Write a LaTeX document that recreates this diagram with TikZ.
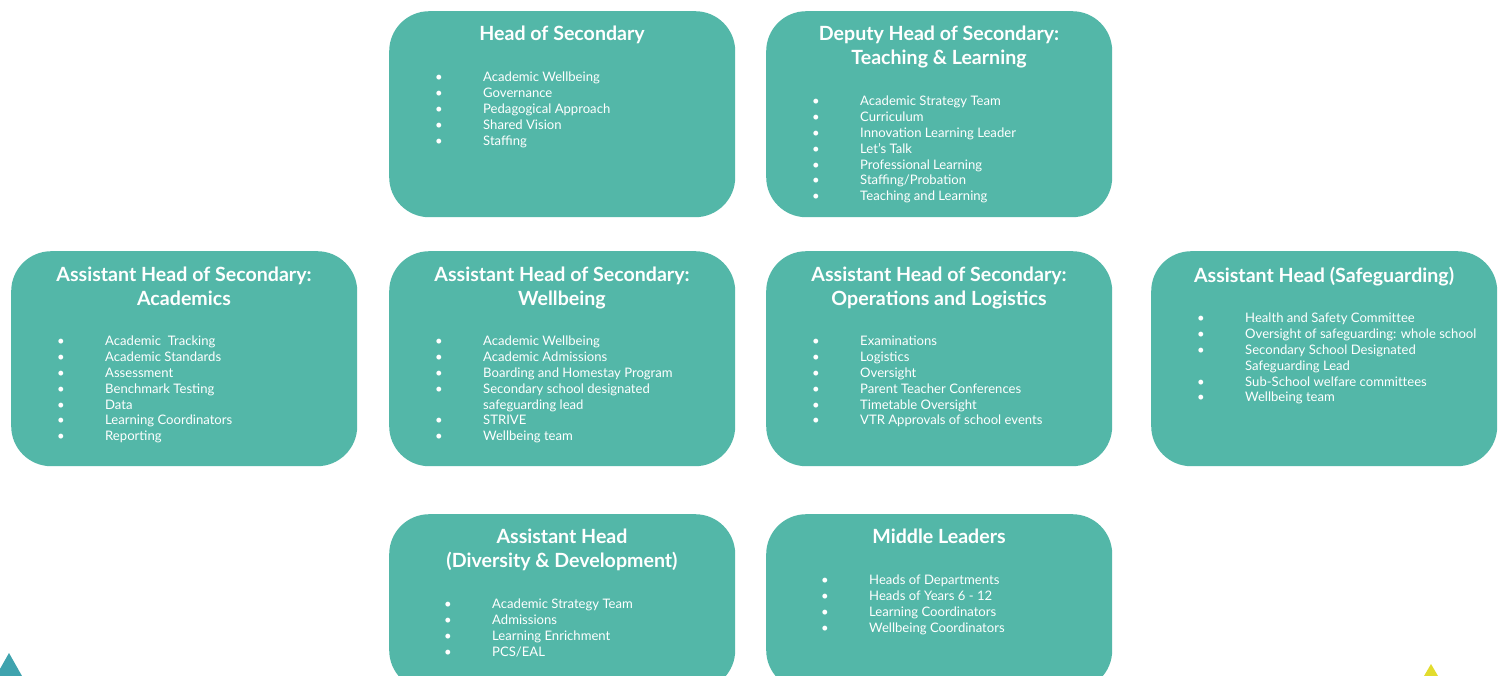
\documentclass[tikz,border=0pt]{standalone}
\usepackage{fontspec}
\setmainfont{Lato}
\definecolor{boxteal}{HTML}{53B7A8}
\definecolor{triteal}{HTML}{3FA3AE}
\definecolor{triyellow}{HTML}{E2DC2E}
\newcommand{\bul}{\makebox[48pt][l]{\textbullet}}
\newcommand{\nobul}{\makebox[48pt][l]{}}
\newcommand{\nl}{\kern0pt}
\begin{document}
\begin{tikzpicture}[x=1pt,y=-1pt,
  box/.style={fill=boxteal, rounded corners=40pt, minimum width=346pt, inner sep=0pt, anchor=north west},
  title/.style={text=white, font=\fontsize{19.6}{23.8}\selectfont\bfseries, align=center, anchor=north, inner sep=0pt},
  list/.style={text=white, font=\fontsize{13.1}{15.8}\selectfont, align=left, anchor=north west, inner sep=0pt}]
\clip (0,0) rectangle (1504,675);
\fill[white] (0,0) rectangle (1504,675);

% boxes
\node[box, minimum height=206pt] (hos) at (389,11) {};
\node[box, minimum height=206pt] (dep) at (766,11) {};
\node[box, minimum height=215pt] (aca) at (11,251) {};
\node[box, minimum height=215pt] (wel) at (389,251) {};
\node[box, minimum height=215pt] (ops) at (766,251) {};
\node[box, minimum height=215pt] (saf) at (1151,251) {};
\node[box, minimum height=176pt] (div) at (389,514) {};
\node[box, minimum height=176pt] (mid) at (766,514) {};

% titles
\node[title] (hos-t) at (562,26) {Head of Secondary};
\node[title] (dep-t) at (939,26) {Deputy Head of Secondary:\\Teaching \& Learning};
\node[title] (aca-t) at (184,267) {Assistant Head of Secondary:\\Academics};
\node[title] (wel-t) at (562,267) {Assistant Head of Secondary:\\Wellbeing};
\node[title] (ops-t) at (939,267) {Assistant Head of Secondary:\\Opera\nl tions and Logis\nl tics};
\node[title] (saf-t) at (1324,267) {Assistant Head (Safeguarding)};
\node[title] (div-t) at (562,529) {Assistant Head\\(Diversity \& Development)};
\node[title] (mid-t) at (939,529) {Middle Leaders};

% lists
\node[list] (hos-l) at (435,72) {\bul Academic Wellbeing\\\bul Governance\\\bul Pedagogical Approach\\\bul Shared Vision\\\bul Staffing};
\node[list] (dep-l) at (812,96) {\bul Academic Strategy Team\\\bul Curriculum\\\bul Innova\nl tion Learning Leader\\\bul Let’s Talk\\\bul Professional Learning\\\bul Staffing/Proba\nl tion\\\bul Teaching and Learning};
\node[list] (aca-l) at (57,336) {\bul Academic\ \ Tracking\\\bul Academic Standards\\\bul Assessment\\\bul Benchmark Tes\nl ting\\\bul Data\\\bul Learning Coordinators\\\bul Repor\nl ting};
\node[list] (wel-l) at (435,336) {\bul Academic Wellbeing\\\bul Academic Admissions\\\bul Boarding and Homestay Program\\\bul Secondary school designated\\\nobul safeguarding lead\\\bul STRIVE\\\bul Wellbeing team};
\node[list] (ops-l) at (812,336) {\bul Examina\nl tions\\\bul Logis\nl tics\\\bul Oversight\\\bul Parent Teacher Conferences\\\bul Timetable Oversight\\\bul VTR Approvals of school events};
\node[list] (saf-l) at (1197,313) {\bul Health and Safety Commit\nl tee\\\bul Oversight of safeguarding: whole school\\\bul Secondary School Designated\\\nobul Safeguarding Lead\\\bul Sub-School welfare commit\nl tees\\\bul Wellbeing team};
\node[list] (div-l) at (444,599) {\bul Academic Strategy Team\\\bul Admissions\\\bul Learning Enrichment\\\bul PCS/EAL};
\node[list] (mid-l) at (821,575) {\bul Heads of Departments\\\bul Heads of Years 6 - 12\\\bul Learning Coordinators\\\bul Wellbeing Coordinators};

% corner triangles
\fill[triteal] (9,653) -- (22,676) -- (-4,676) -- cycle;
\fill[triyellow] (1431,664) -- (1438,676) -- (1424,676) -- cycle;
\end{tikzpicture}
\end{document}
